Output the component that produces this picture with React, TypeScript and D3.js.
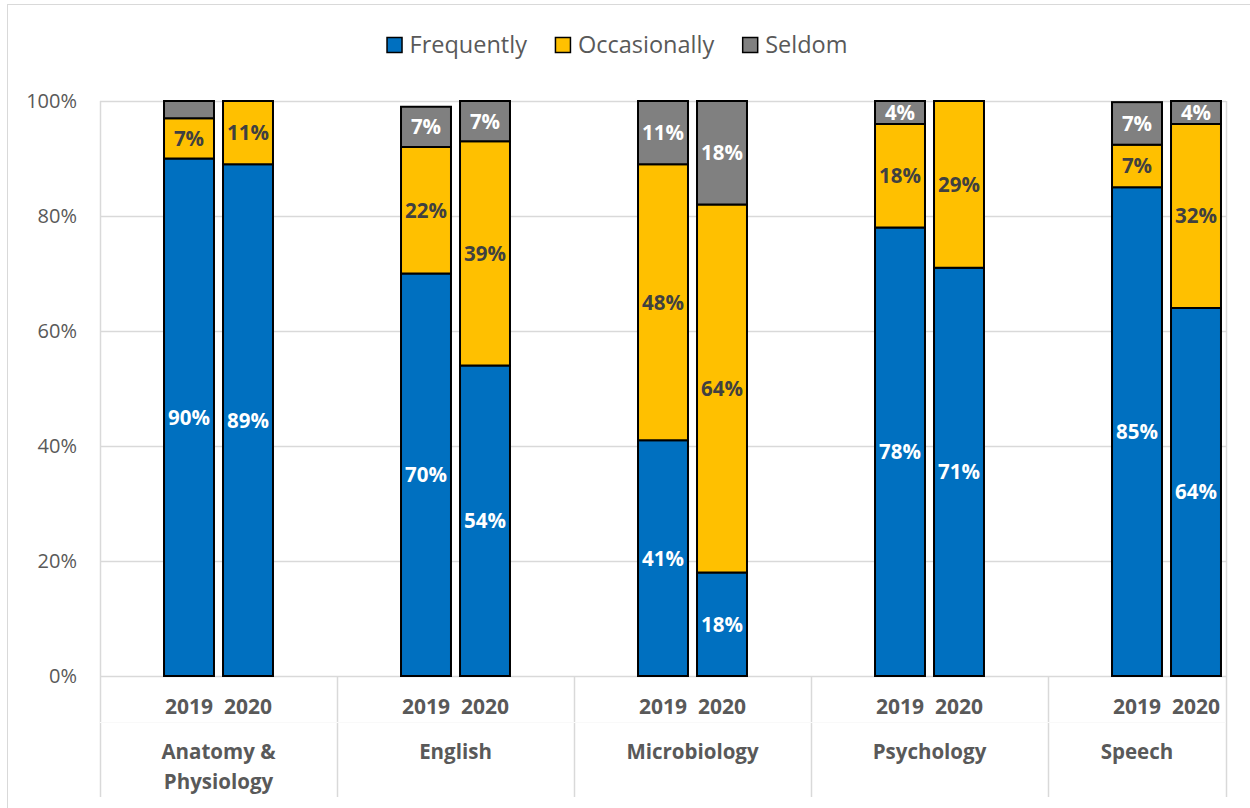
import React, { useEffect, useRef } from "react";
import * as d3 from "d3";

const categories = ["Anatomy & Physiology", "English", "Microbiology", "Psychology", "Speech"];
const categoryLines = [["Anatomy &", "Physiology"], ["English"], ["Microbiology"], ["Psychology"], ["Speech"]];
const years = ["2019", "2020"];
const seriesNames = ["Frequently", "Occasionally", "Seldom"];
// values per category, [2019, 2020]
const frequently = [[90, 89], [70, 54], [41, 18], [78, 71], [85, 64]];
const occasionally = [[7, 11], [22, 39], [48, 64], [18, 29], [7.4, 32]];
const seldom = [[3, 0], [7, 7], [11, 18], [4, 0], [7.4, 4]];
const yTicks = [0, 20, 40, 60, 80, 100];

const colors = ["#0070C0", "#FFC000", "#808080"];
const labelColors = ["#ffffff", "#404040", "#ffffff"];
const font = "'Open Sans', sans-serif";

const App = () => {
	const ref = useRef<SVGSVGElement>(null);

	useEffect(() => {
		const margin = { top: 101, left: 100, bottom: 676, right: 1226 };
		const groupWidth = 237;

		const svg = d3.select(ref.current);
		svg.selectAll("*").remove();

		svg
			.append("rect")
			.attr("x", 7.5)
			.attr("y", 4.5)
			.attr("width", 1400)
			.attr("height", 900)
			.attr("fill", "#fff")
			.attr("stroke", "#d9d9d9");

		const y = d3.scaleLinear().domain([0, 100]).range([margin.bottom, margin.top]);
		const x0 = d3
			.scaleBand()
			.domain(categories)
			.range([margin.left, margin.left + groupWidth * categories.length]);
		const x1 = d3.scaleBand().domain(years).range([0, x0.bandwidth()]).paddingInner(0.153).paddingOuter(1.085);

		// gridlines
		svg
			.append("g")
			.selectAll("line")
			.data(yTicks)
			.join("line")
			.attr("x1", margin.left)
			.attr("x2", margin.right)
			.attr("y1", (d) => y(d) + 0.5)
			.attr("y2", (d) => y(d) + 0.5)
			.attr("stroke", "#d9d9d9")
			.attr("stroke-width", 1.5);

		svg
			.append("g")
			.selectAll("text")
			.data(yTicks)
			.join("text")
			.attr("x", 77)
			.attr("y", (d) => y(d))
			.attr("dy", "0.35em")
			.attr("text-anchor", "end")
			.attr("font-family", font)
			.attr("font-size", 20)
			.attr("fill", "#595959")
			.text((d) => d + "%");

		// category dividers
		const edges = [margin.left, ...categories.slice(1).map((c) => x0(c)!), margin.right];
		svg
			.append("g")
			.selectAll("line")
			.data(edges)
			.join("line")
			.attr("x1", (d) => d + 0.5)
			.attr("x2", (d) => d + 0.5)
			.attr("y1", (d, i) => (i === 0 || i === edges.length - 1 ? margin.top : margin.bottom))
			.attr("y2", 797)
			.attr("stroke", "#d9d9d9")
			.attr("stroke-width", 1.5);

		svg
			.append("line")
			.attr("x1", margin.left)
			.attr("x2", margin.right)
			.attr("y1", 722.5)
			.attr("y2", 722.5)
			.attr("stroke", "#f9f9f9");

		const all = [frequently, occasionally, seldom];

		categories.forEach((cat, ci) => {
			const gx = x0(cat)!;
			years.forEach((yr, yi) => {
				let base = 0;
				const bx = gx + x1(yr)!;
				all.forEach((series, si) => {
					const v = series[ci][yi];
					if (v <= 0) return;
					const y0 = y(base);
					const yTop = y(base + v);
					svg
						.append("rect")
						.attr("x", bx)
						.attr("y", yTop)
						.attr("width", x1.bandwidth())
						.attr("height", y0 - yTop)
						.attr("fill", colors[si])
						.attr("stroke", "#000")
						.attr("stroke-width", 2);
					if (v >= 3.5) {
						svg
							.append("text")
							.attr("x", bx + x1.bandwidth() / 2)
							.attr("y", (y0 + yTop) / 2)
							.attr("dy", "0.36em")
							.attr("text-anchor", "middle")
							.attr("font-family", font)
							.attr("font-weight", "bold")
							.attr("font-size", 20.5)
							.attr("fill", labelColors[si])
							.text(Math.round(v) + "%");
					}
					base += v;
				});
				svg
					.append("text")
					.attr("x", bx + x1.bandwidth() / 2)
					.attr("y", 707)
					.attr("dy", "0.35em")
					.attr("text-anchor", "middle")
					.attr("font-family", font)
					.attr("font-weight", "bold")
					.attr("font-size", 21)
					.attr("fill", "#595959")
					.text(yr);
			});
			const left = Math.max(gx, margin.left);
			const right = Math.min(gx + x0.bandwidth(), margin.right);
			categoryLines[ci].forEach((line, li) => {
				svg
					.append("text")
					.attr("x", (left + right) / 2)
					.attr("y", 752 + li * 30)
					.attr("dy", "0.35em")
					.attr("text-anchor", "middle")
					.attr("font-family", font)
					.attr("font-weight", "bold")
					.attr("font-size", 20.5)
					.attr("fill", "#595959")
					.text(line);
			});
		});

		// legend
		const legend = svg.append("g");
		const items = seriesNames.map((name, i) => {
			const g = legend.append("g");
			g.append("rect")
				.attr("x", 0.5)
				.attr("y", -7.5)
				.attr("width", 15)
				.attr("height", 15)
				.attr("fill", colors[i])
				.attr("stroke", "#000")
				.attr("stroke-width", 1.5);
			const t = g
				.append("text")
				.attr("x", 23)
				.attr("dy", "0.35em")
				.attr("font-family", font)
				.attr("font-size", 23.5)
				.attr("fill", "#595959")
				.text(name);
			return { g, w: 23 + (t.node() as SVGTextElement).getComputedTextLength() };
		});
		const gap = 28;
		const total = d3.sum(items, (d) => d.w) + gap * (items.length - 1);
		let cx = 617 - total / 2;
		items.forEach((it) => {
			it.g.attr("transform", `translate(${cx},45)`);
			cx += it.w + gap;
		});
	}, []);

	return (
		<svg
			ref={ref}
			width={1250}
			height={808}
			style={{ position: "absolute", left: 0, top: 0, background: "#fff" }}
		/>
	);
};

export default App;
